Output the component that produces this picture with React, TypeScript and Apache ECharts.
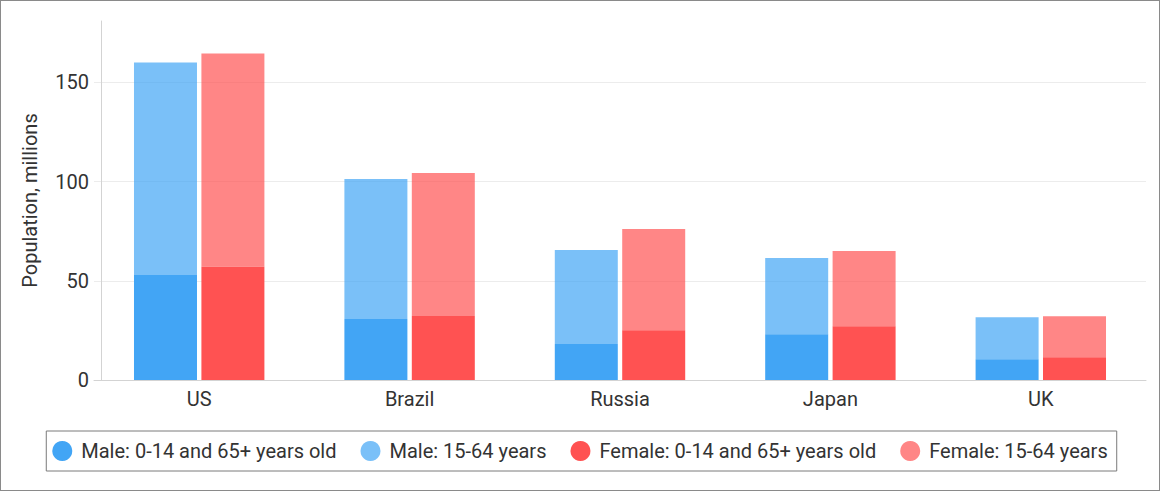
import React, { useEffect, useRef } from "react";
import * as echarts from "echarts";

const categories = ["US", "Brazil", "Russia", "Japan", "UK"];
const maleYoungOld = [53.0, 30.7, 18.2, 23.1, 10.5];
const maleMiddle = [107.1, 70.7, 47.3, 38.4, 21.2];
const femaleYoungOld = [57.1, 32.3, 25.1, 27.1, 11.5];
const femaleMiddle = [107.5, 72.1, 51.0, 37.9, 20.7];
const seriesNames = [
  "Male: 0-14 and 65+ years old",
  "Male: 15-64 years",
  "Female: 0-14 and 65+ years old",
  "Female: 15-64 years",
];
const colors = ["#42a5f5", "rgba(66,165,245,0.7)", "#ff5252", "rgba(255,82,82,0.7)"];

export default function App() {
  const ref = useRef<HTMLDivElement>(null);
  useEffect(() => {
    document.body.style.margin = "0";
    const chart = echarts.init(ref.current!, null, { renderer: "svg" });
    const font = "Roboto";
    const mk = (i: number, data: number[], stack: string) => ({
      name: seriesNames[i],
      type: "bar",
      stack,
      data,
      barWidth: 63,
      barGap: "7%",
      itemStyle: { color: colors[i] },
    });
    chart.setOption({
      animation: false,
      textStyle: { fontFamily: font },
      grid: { left: 94, right: 14, top: 21, bottom: 111 },
      legend: {
        left: "center",
        top: 431,
        icon: "circle",
        itemWidth: 20,
        itemHeight: 20,
        itemGap: 24,
        padding: [10, 9, 10, 6],
        borderColor: "#7a7a7a",
        borderWidth: 1,
        textStyle: { fontFamily: font, fontSize: 20, color: "#333", padding: [0, 0, 0, 4] },
        data: seriesNames,
      },
      xAxis: {
        type: "category",
        data: categories,
        axisLine: { lineStyle: { color: "#d3d3d3" } },
        axisTick: { show: false },
        axisLabel: { fontFamily: font, fontSize: 20, color: "#333", margin: 9 },
      },
      yAxis: {
        type: "value",
        min: 0,
        max: 181,
        interval: 50,
        offset: -7,
        name: "Population, millions",
        nameLocation: "middle",
        nameGap: 61,
        nameTextStyle: { fontFamily: font, fontSize: 20, color: "#333" },
        axisLine: { show: true, lineStyle: { color: "#d3d3d3" } },
        axisTick: { show: false },
        axisLabel: { fontFamily: font, fontSize: 20, color: "#333", margin: 12, showMaxLabel: false },
        splitLine: { showMaxLine: false, lineStyle: { color: "#ececec", width: 1 } },
      },
      series: [
        mk(0, maleYoungOld, "male"),
        mk(1, maleMiddle, "male"),
        mk(2, femaleYoungOld, "female"),
        mk(3, femaleMiddle, "female"),
      ],
    });
    return () => chart.dispose();
  }, []);
  return (
    <div style={{ position: "relative", width: 1160, height: 491 }}>
      <div ref={ref} style={{ position: "absolute", left: 0, top: 0, width: 1160, height: 491 }} />
      <div
        style={{
          position: "absolute",
          left: 0,
          top: 0,
          width: 1160,
          height: 491,
          boxSizing: "border-box",
          border: "1px solid #8a8a8a",
          pointerEvents: "none",
        }}
      />
    </div>
  );
}
